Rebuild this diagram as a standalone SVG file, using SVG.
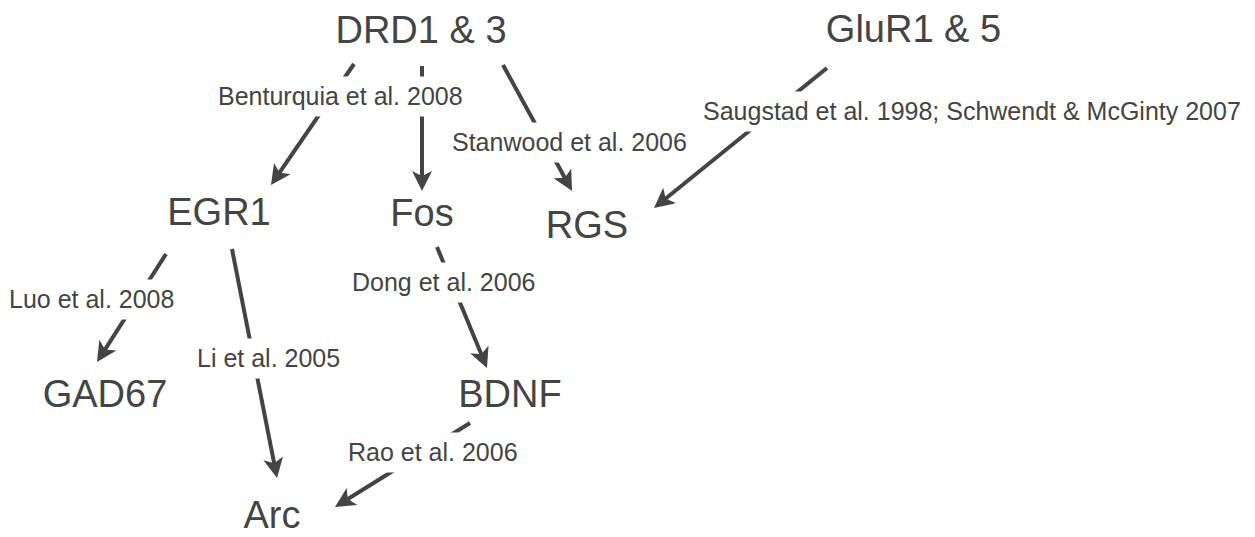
<svg xmlns="http://www.w3.org/2000/svg" width="1255" height="537" viewBox="0 0 1255 537">
<style>
.node{font-family:"Liberation Sans",Arial,sans-serif;font-size:38px;fill:#444;text-anchor:middle}
.lbl{font-family:"Liberation Sans",Arial,sans-serif;font-size:25px;fill:#444}
.edge{stroke:#444;stroke-width:4;fill:none;marker-end:url(#arr)}
.bg{fill:#fff}
</style>
<defs>
<marker id="arr" viewBox="0 0 20 20" refX="12" refY="10" markerWidth="20" markerHeight="20" markerUnits="userSpaceOnUse" orient="auto">
<path d="M0,0 L20,10 L0,20 L5,10 Z" fill="#444"/>
</marker>
</defs>
<rect width="1255" height="537" fill="#fff"/>
<g id="connectors">
<path class="edge" d="M354,64 L275.5,178.4"/>
<path class="edge" d="M422,66 L422,183"/>
<path class="edge" d="M503,65 L568.2,184"/>
<path class="edge" d="M827,68 L660.2,203"/>
<path class="edge" d="M166,254 L101.3,355.3"/>
<path class="edge" d="M232,249 L275.5,470.2"/>
<path class="edge" d="M437,247 L483.9,360.6"/>
<path class="edge" d="M470,423 L341.8,502.8"/>
</g>
<g id="labels">
<rect class="bg" x="212" y="76.5" width="262" height="40"/>
<text class="lbl" x="218" y="105">Benturquia et al. 2008</text>
<rect class="bg" x="446" y="122.5" width="247" height="40"/>
<text class="lbl" x="452" y="151">Stanwood et al. 2006</text>
<rect class="bg" x="697" y="91.5" width="550" height="40"/>
<text class="lbl" x="703" y="120">Saugstad et al. 1998; Schwendt &amp; McGinty 2007</text>
<rect class="bg" x="3" y="279.5" width="177" height="40"/>
<text class="lbl" x="9" y="308">Luo et al. 2008</text>
<rect class="bg" x="191" y="338.5" width="155" height="40"/>
<text class="lbl" x="197" y="367">Li et al. 2005</text>
<rect class="bg" x="346" y="262.5" width="195" height="40"/>
<text class="lbl" x="352" y="291">Dong et al. 2006</text>
<rect class="bg" x="342" y="432.5" width="181" height="40"/>
<text class="lbl" x="348" y="461">Rao et al. 2006</text>
</g>
<g id="DRD13"><text class="node" x="421" y="43">DRD1 &amp; 3</text></g>
<g id="GluR15"><text class="node" x="913.5" y="42">GluR1 &amp; 5</text></g>
<g id="EGR1"><text class="node" x="219" y="225">EGR1</text></g>
<g id="Fos"><text class="node" x="422" y="226">Fos</text></g>
<g id="RGS"><text class="node" x="587" y="238">RGS</text></g>
<g id="GAD67"><text class="node" x="105" y="407">GAD67</text></g>
<g id="BDNF"><text class="node" x="510" y="407">BDNF</text></g>
<g id="Arc"><text class="node" x="272" y="528">Arc</text></g>
</svg>
